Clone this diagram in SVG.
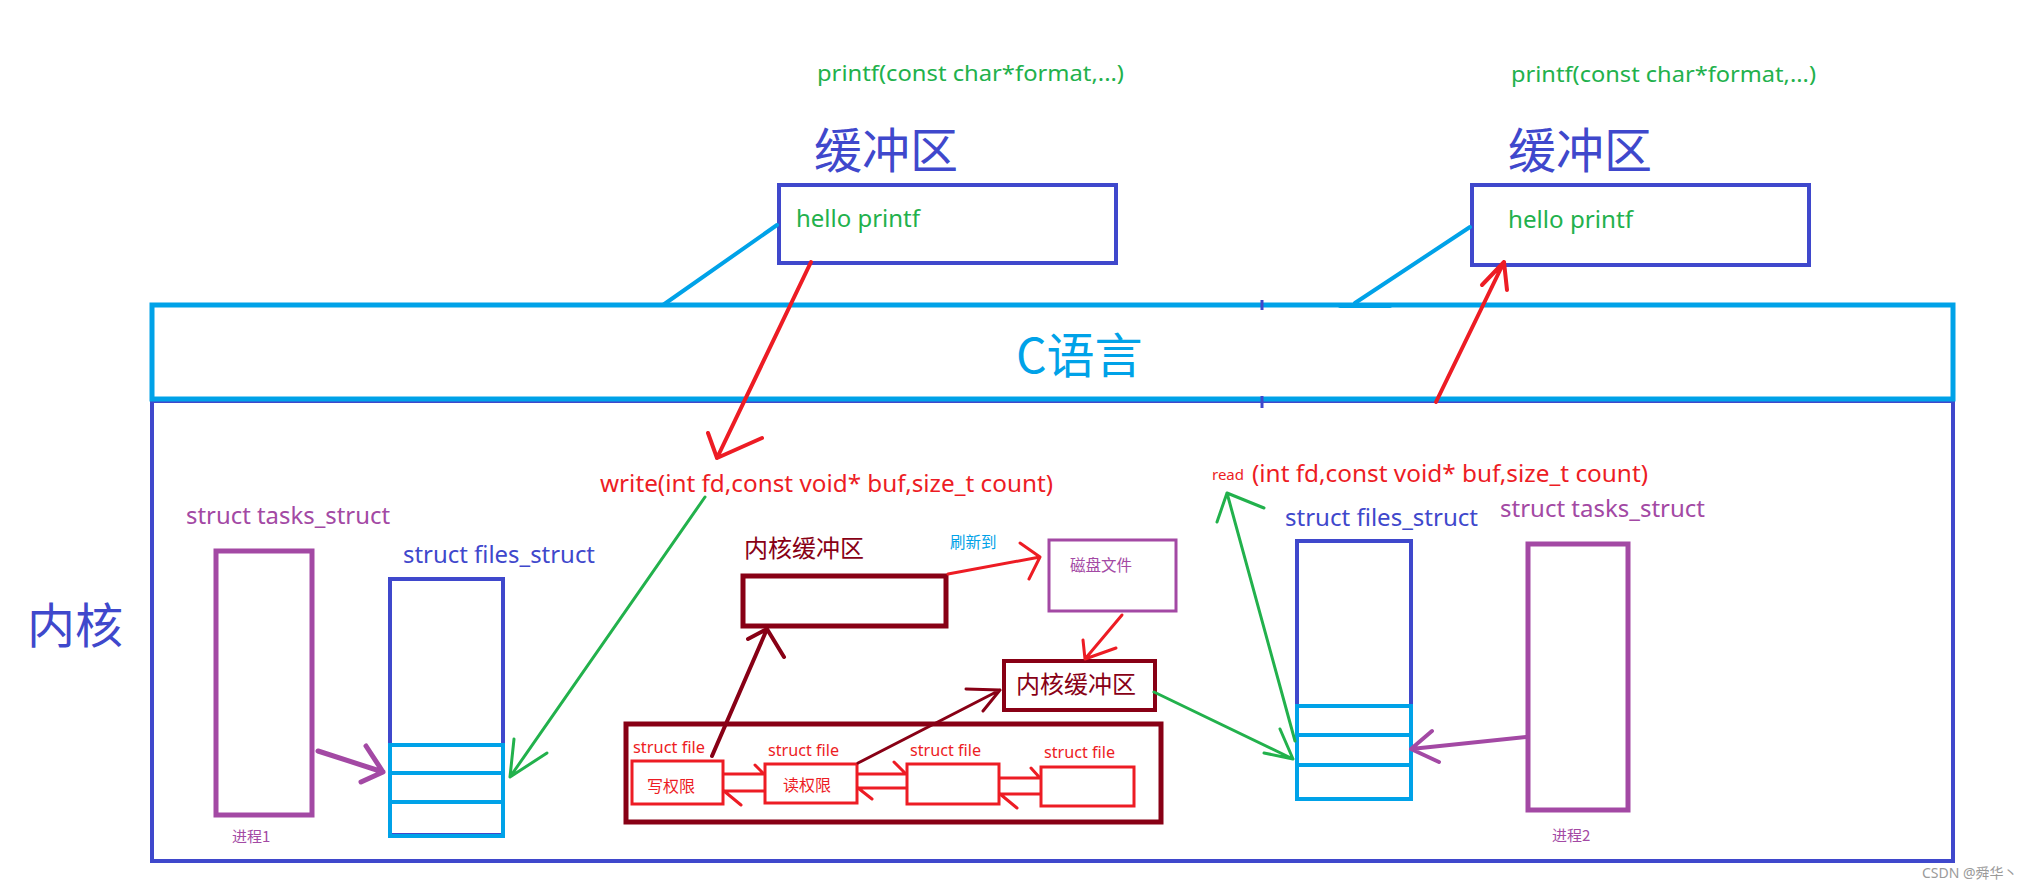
<svg xmlns="http://www.w3.org/2000/svg" width="2030" height="888" viewBox="0 0 2030 888">
<style>
text{font-family:"Noto Sans","Noto Sans CJK SC",sans-serif}
.cjk{font-family:"Noto Sans CJK SC","Noto Sans",sans-serif}
.box{fill:none}
.blue{stroke:#3F48CC}
.lblue{stroke:#00A2E8}
.purple{stroke:#A349A4}
.dred{stroke:#880015}
.red{stroke:#ED1C24}
.green{stroke:#22B14C}
.conn path{fill:none;stroke-linecap:round;stroke-linejoin:round}
.tg{fill:#22B14C}
.tb{fill:#3F48CC}
.tl{fill:#00A2E8}
.tp{fill:#A349A4}
.tr{fill:#ED1C24}
.td{fill:#880015}
</style>
<rect width="2030" height="888" fill="#fff"/>

<g id="kernel">
<rect class="box blue" x="152" y="401" width="1801" height="460" stroke-width="4"/>
<text class="cjk tb" x="27" y="643" font-size="48">内核</text>
</g>

<g id="c-lang">
<rect class="box lblue" x="152" y="305" width="1801" height="94" stroke-width="5"/>
<line class="blue" x1="1262" y1="300" x2="1262" y2="310" stroke-width="3"/>
<line class="blue" x1="1262" y1="396" x2="1262" y2="408" stroke-width="3"/>
<text class="cjk tl" x="1016" y="373" font-size="48">C语言</text>
</g>

<g id="buffer-left">
<text class="tg" x="817" y="81" font-size="22" textLength="307" lengthAdjust="spacingAndGlyphs">printf(const char*format,...)</text>
<text class="cjk tb" x="814" y="168" font-size="48">缓冲区</text>
<rect class="box blue" x="779" y="185" width="337" height="78" stroke-width="4"/>
<text class="tg" x="796" y="227" font-size="23" textLength="124" lengthAdjust="spacingAndGlyphs">hello printf</text>
</g>

<g id="buffer-right">
<text class="tg" x="1511" y="82" font-size="22" textLength="305" lengthAdjust="spacingAndGlyphs">printf(const char*format,...)</text>
<text class="cjk tb" x="1508" y="168" font-size="48">缓冲区</text>
<rect class="box blue" x="1472" y="185" width="337" height="80" stroke-width="4"/>
<text class="tg" x="1508" y="228" font-size="23" textLength="125" lengthAdjust="spacingAndGlyphs">hello printf</text>
</g>

<g id="write-label">
<text class="tr" x="600" y="492" font-size="24" textLength="453" lengthAdjust="spacingAndGlyphs">write(int fd,const void* buf,size_t count)</text>
</g>

<g id="read-label">
<text class="tr" x="1212" y="480" font-size="15" textLength="32" lengthAdjust="spacingAndGlyphs">read</text>
<text class="tr" x="1252" y="482" font-size="23" textLength="396" lengthAdjust="spacingAndGlyphs">(int fd,const void* buf,size_t count)</text>
</g>

<g id="tasks-left">
<text class="tp" x="186" y="524" font-size="23" textLength="204" lengthAdjust="spacingAndGlyphs">struct tasks_struct</text>
<rect class="box purple" x="216" y="551" width="96" height="264" stroke-width="5"/>
<text class="cjk tp" x="232" y="842" font-size="15">进程1</text>
</g>

<g id="files-left">
<text class="tb" x="403" y="563" font-size="23" textLength="192" lengthAdjust="spacingAndGlyphs">struct files_struct</text>
<rect class="box blue" x="390" y="579" width="113" height="256" stroke-width="4"/>
<rect class="box lblue" x="390" y="745" width="113" height="28" stroke-width="4"/>
<rect class="box lblue" x="390" y="773" width="113" height="29" stroke-width="4"/>
<rect class="box lblue" x="390" y="802" width="113" height="34" stroke-width="4"/>
</g>

<g id="kbuf-1">
<text class="cjk td" x="744" y="557" font-size="24">内核缓冲区</text>
<rect class="box dred" x="743" y="576" width="203" height="50" stroke-width="5"/>
</g>

<g id="flush-label">
<text class="cjk tl" x="950" y="548" font-size="15.5">刷新到</text>
</g>

<g id="disk">
<rect class="box purple" x="1049" y="540" width="127" height="71" stroke-width="3"/>
<text class="cjk tp" x="1070" y="571" font-size="15.5">磁盘文件</text>
</g>

<g id="kbuf-2">
<rect class="box dred" x="1004" y="661" width="151" height="49" stroke-width="4"/>
<text class="cjk td" x="1016" y="693" font-size="24">内核缓冲区</text>
</g>

<g id="struct-files">
<rect class="box dred" x="626" y="724" width="535" height="98" stroke-width="5"/>
<g id="sf1">
<text class="tr" x="633" y="753" font-size="16" textLength="72" lengthAdjust="spacingAndGlyphs">struct file</text>
<rect class="box red" x="632" y="761" width="91" height="43" stroke-width="3"/>
<text class="cjk tr" x="647" y="792" font-size="16">写权限</text>
</g>
<g id="sf2">
<text class="tr" x="768" y="756" font-size="16" textLength="71" lengthAdjust="spacingAndGlyphs">struct file</text>
<rect class="box red" x="765" y="764" width="92" height="39" stroke-width="3"/>
<text class="cjk tr" x="783" y="791" font-size="16">读权限</text>
</g>
<g id="sf3">
<text class="tr" x="910" y="756" font-size="16" textLength="71" lengthAdjust="spacingAndGlyphs">struct file</text>
<rect class="box red" x="907" y="764" width="92" height="40" stroke-width="3"/>
</g>
<g id="sf4">
<text class="tr" x="1044" y="758" font-size="16" textLength="71" lengthAdjust="spacingAndGlyphs">struct file</text>
<rect class="box red" x="1041" y="767" width="93" height="39" stroke-width="3"/>
</g>
</g>

<g id="files-right">
<text class="tb" x="1285" y="526" font-size="23" textLength="193" lengthAdjust="spacingAndGlyphs">struct files_struct</text>
<rect class="box blue" x="1297" y="541" width="114" height="258" stroke-width="4"/>
<rect class="box lblue" x="1297" y="706" width="114" height="29" stroke-width="4"/>
<rect class="box lblue" x="1297" y="735" width="114" height="30" stroke-width="4"/>
<rect class="box lblue" x="1297" y="765" width="114" height="34" stroke-width="4"/>
</g>

<g id="tasks-right">
<text class="tp" x="1500" y="517" font-size="23" textLength="205" lengthAdjust="spacingAndGlyphs">struct tasks_struct</text>
<rect class="box purple" x="1528" y="544" width="100" height="266" stroke-width="5"/>
<text class="cjk tp" x="1552" y="841" font-size="15">进程2</text>
</g>

<g id="connectors" class="conn">
<path class="lblue" d="M777,225 L663,305" stroke-width="4"/>
<path class="lblue" d="M1470,227 L1355,303 M1340,306 H1390" stroke-width="4"/>
<path class="red" d="M811,262 L717,458 M708,433 L717,458 L762,438" stroke-width="4"/>
<path class="green" d="M705,497 L510,777 M514,739 L510,777 L547,753" stroke-width="3"/>
<path class="purple" d="M318,751 L383,772 M366,746 L383,772 L361,782" stroke-width="5"/>
<path class="dred" d="M712,756 L767,629 M748,639 L767,629 L784,657" stroke-width="4"/>
<path class="red" d="M948,574 L1040,557 M1020,543 L1040,557 L1029,579" stroke-width="3"/>
<path class="red" d="M1122,615 L1085,659 M1083,640 L1085,659 L1116,648" stroke-width="3"/>
<path class="dred" d="M858,763 L1000,690 M966,689 L1000,690 L983,711" stroke-width="3"/>
<path class="green" d="M1154,692 L1293,759 M1264,753 L1293,759 L1280,729" stroke-width="3"/>
<path class="green" d="M1295,741 L1227,493 M1217,522 L1227,493 L1264,508" stroke-width="3"/>
<path class="purple" d="M1526,737 L1411,749 M1432,731 L1411,749 L1439,762" stroke-width="4"/>
<path class="red" d="M1436,402 L1504,262 M1482,285 L1504,262 L1507,290" stroke-width="4"/>
<path class="red" d="M724,774 H764 M755,765 L764,774 M764,791 H724 M741,805 L724,791" stroke-width="3"/>
<path class="red" d="M858,774 H906 M894,762 L906,774 M906,788 H858 M872,799 L858,788" stroke-width="3"/>
<path class="red" d="M1000,778 H1040 M1031,768 L1040,778 M1040,794 H1000 M1017,808 L1000,794" stroke-width="3"/>
</g>

<text x="1922" y="878" font-size="14" fill="#9a9a9a" font-family="Liberation Sans, Noto Sans CJK SC, sans-serif">CSDN @舜华丶</text>
</svg>
